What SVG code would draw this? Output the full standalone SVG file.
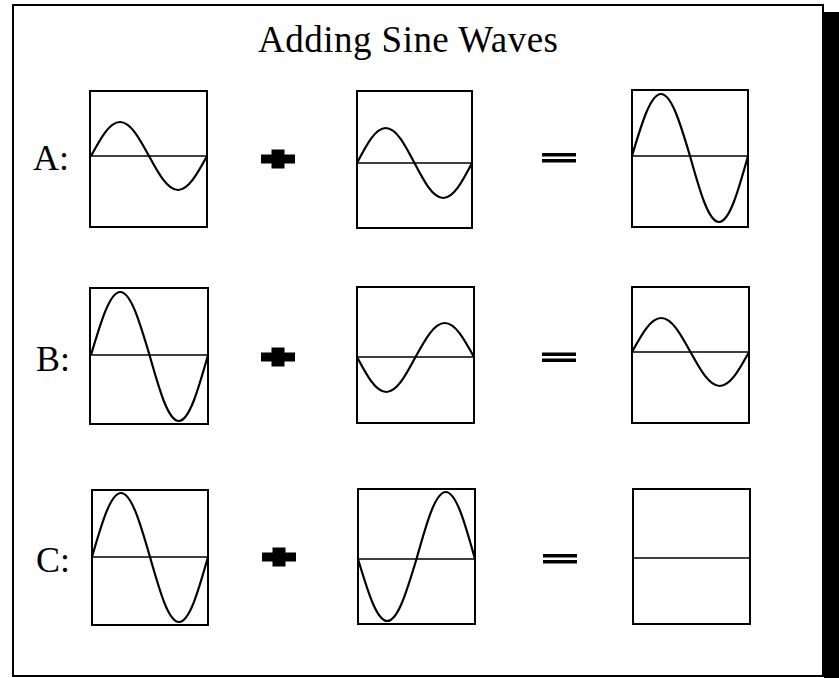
<svg xmlns="http://www.w3.org/2000/svg" xmlns:xlink="http://www.w3.org/1999/xlink" width="839" height="678" viewBox="0 0 839 678">
<style>
.frame{fill:#fff;stroke:#000;stroke-width:2}
.box{fill:none;stroke:#000;stroke-width:2}
.axis{stroke:#000;stroke-width:1.6;fill:none}
.wave{fill:none;stroke:#000;stroke-width:2.2;stroke-linejoin:round}
.lbl{font-family:"Liberation Serif","Times New Roman",serif;font-size:36px;fill:#000}
.title{font-family:"Liberation Serif","Times New Roman",serif;font-size:37px;fill:#000}
.op{fill:#000}
</style>
<defs>
<path id="plus" d="M-17,-4.5H-6.5V-9.5H6.5V-4.5H17V4.5H6.5V9.5H-6.5V4.5H-17Z"/>
<path id="equals" d="M-17,-4.5H17V-1H-17ZM-17,1.5H17V5H-17Z"/>
</defs>
<rect x="0" y="0" width="839" height="678" fill="#fff"/>
<rect x="824" y="12" width="15" height="666" fill="#000"/>
<rect class="frame" x="13" y="5" width="810" height="671"/>
<text class="title" x="258" y="52" textLength="300" lengthAdjust="spacing">Adding Sine Waves</text>

<g id="row-a">
<text class="lbl" x="33" y="170">A:</text>
<g id="a1"><rect class="box" x="90" y="91" width="117" height="136"/><line class="axis" x1="90" y1="156" x2="207" y2="156"/>
<path class="wave" d="M91,156 C100.7,138.15 109.5,122 120,122 C130.5,122 139.3,138.15 149,156 C158.7,173.85 167.5,190 178,190 C188.5,190 197.3,173.85 207,156"/></g>
<g id="a2"><rect class="box" x="357" y="91" width="115" height="137"/><line class="axis" x1="357" y1="163" x2="472" y2="163"/>
<path class="wave" d="M357,163 C366.6,144.6 375.3,128 385.75,128 C396.2,128 404.9,144.6 414.5,163 C424.1,181.4 432.8,198 443.25,198 C453.7,198 462.4,181.4 472,163"/></g>
<g id="a3"><rect class="box" x="632" y="90" width="116" height="137"/><line class="axis" x1="632" y1="156" x2="748" y2="156"/>
<path class="wave" d="M632,156 C641.7,123.4 650.5,94 661,94 C671.5,94 680.3,123.4 690,156 C699.7,190.7 708.5,222 719,222 C729.5,222 738.3,190.7 748,156"/></g>
</g>

<g id="row-b">
<text class="lbl" x="36" y="371">B:</text>
<g id="b1"><rect class="box" x="90" y="288" width="118" height="136"/><line class="axis" x1="90" y1="355" x2="208" y2="355"/>
<path class="wave" d="M91,355 C100.8,321.9 109.7,292 120.25,292 C130.8,292 139.7,321.9 149.5,355 C159.3,389.7 168.2,421 178.75,421 C189.3,421 198.2,389.7 208,355"/></g>
<g id="b2"><rect class="box" x="357" y="287" width="117" height="136"/><line class="axis" x1="357" y1="357" x2="474" y2="357"/>
<path class="wave" d="M357,357 C366.8,375.4 375.7,392 386.25,392 C396.8,392 405.7,375.4 415.5,357 C425.3,339.15 434.2,323 444.75,323 C455.3,323 464.2,339.15 474,357"/></g>
<g id="b3"><rect class="box" x="632" y="287" width="117" height="136"/><line class="axis" x1="632" y1="352" x2="749" y2="352"/>
<path class="wave" d="M632,352 C641.8,334.15 650.7,318 661.25,318 C671.8,318 680.7,334.15 690.5,352 C700.3,369.85 709.2,386 719.75,386 C730.3,386 739.2,369.85 749,352"/></g>
</g>

<g id="row-c">
<text class="lbl" x="36" y="572">C:</text>
<g id="c1"><rect class="box" x="92" y="490" width="116" height="135"/><line class="axis" x1="92" y1="557" x2="208" y2="557"/>
<path class="wave" d="M92,557 C101.7,523.4 110.5,493 121,493 C131.5,493 140.3,523.4 150,557 C159.7,591.1 168.5,622 179,622 C189.5,622 198.3,591.1 208,557"/></g>
<g id="c2"><rect class="box" x="358" y="489" width="117" height="135"/><line class="axis" x1="358" y1="559" x2="475" y2="559"/>
<path class="wave" d="M358,559 C367.8,591.6 376.7,621 387.25,621 C397.8,621 406.7,591.6 416.5,559 C426.3,523.8 435.2,492 445.75,492 C456.3,492 465.2,523.8 475,559"/></g>
<g id="c3"><rect class="box" x="633" y="489" width="117" height="135"/><line class="axis" x1="633" y1="558" x2="750" y2="558"/></g>
</g>

<g id="connectors">
<use class="op" xlink:href="#plus" href="#plus" transform="translate(278,159)"/>
<use class="op" xlink:href="#plus" href="#plus" transform="translate(278,357)"/>
<use class="op" xlink:href="#plus" href="#plus" transform="translate(279,557)"/>
<use class="op" xlink:href="#equals" href="#equals" transform="translate(559,157.5)"/>
<use class="op" xlink:href="#equals" href="#equals" transform="translate(559,357)"/>
<use class="op" xlink:href="#equals" href="#equals" transform="translate(560,558.5)"/>
</g>
</svg>
